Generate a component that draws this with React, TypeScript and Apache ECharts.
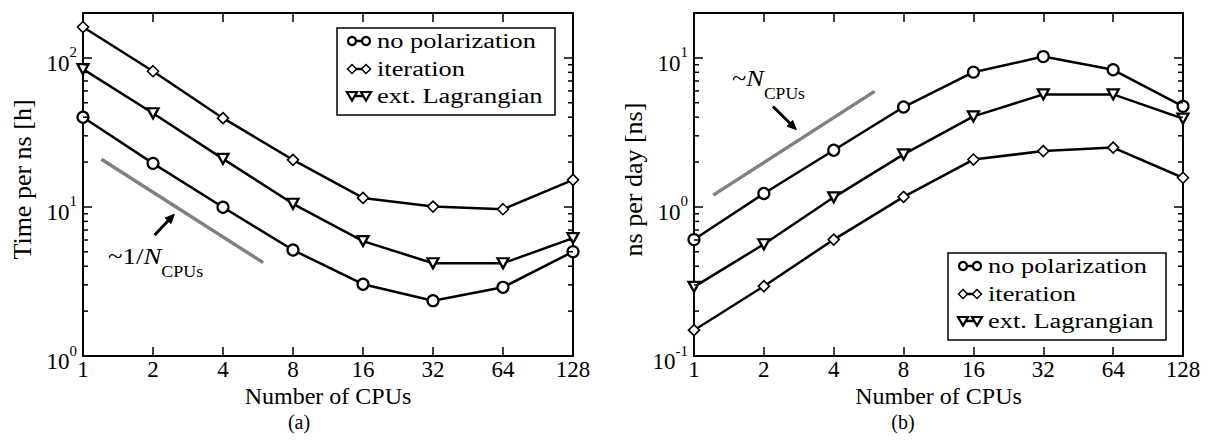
import React, { useEffect, useRef } from 'react';
import * as echarts from 'echarts';

const FONT = "'Liberation Serif', 'Times New Roman', serif";

// ---- data ----
const cpus = [1, 2, 4, 8, 16, 32, 64, 128];
// (a) Time per ns [h]
const timeNoPol = [40, 19.6, 9.95, 5.14, 3.03, 2.35, 2.89, 5.01];
const timeIter = [161, 81.4, 39.4, 20.7, 11.5, 10.05, 9.65, 15.2];
const timeLag = [84, 42.5, 21, 10.5, 5.9, 4.19, 4.19, 6.17];
// (b) ns per day [ns]
const nsNoPol = [0.604, 1.23, 2.4, 4.68, 8.02, 10.2, 8.32, 4.73];
const nsIter = [0.149, 0.294, 0.604, 1.167, 2.08, 2.37, 2.5, 1.57];
const nsLag = [0.291, 0.562, 1.16, 2.25, 4.05, 5.69, 5.69, 3.91];

// guide lines (data coordinates)
const guideLeftX = [1.2, 5.96];
const guideLeftY = [20.9, 4.23];
const guideRightX = [1.21, 6.0];
const guideRightY = [1.2, 5.96];
// arrows: [xFrom, yFrom, xTo, yTo]
const arrowLeft = [2.03, 6.46, 2.47, 8.93];
const arrowRight = [2.19, 4.72, 2.76, 3.3];

// minor tick values of the log axes
const leftMinorTicks = [2, 3, 4, 5, 6, 7, 8, 9, 20, 30, 40, 50, 60, 70, 80, 90];
const rightMinorTicks = [0.2, 0.3, 0.4, 0.5, 0.6, 0.7, 0.8, 0.9, 2, 3, 4, 5, 6, 7, 8, 9];

const seriesNames = ['no polarization', 'iteration', 'ext. Lagrangian'];
const xMin = 1;
const xMax = 128;

function powLabel(v: number) {
  const l = Math.log10(v);
  const e = Math.round(l);
  if (Math.abs(l - e) > 1e-6) return '';
  return `{b|10}{s|${e}}`;
}

const supRich = {
  b: { fontSize: 23, fontFamily: FONT, color: '#000', padding: [7, 0, 0, 0] },
  s: { fontSize: 15, fontFamily: FONT, color: '#000', verticalAlign: 'top' },
};

function xAxis(grid: number, pos: 'top' | 'bottom') {
  return {
    type: 'log',
    logBase: 2,
    min: xMin,
    max: xMax,
    gridIndex: grid,
    position: pos,
    name: pos === 'bottom' ? 'Number of CPUs' : '',
    nameLocation: 'middle',
    nameGap: 28,
    nameMoveOverlap: false,
    nameTextStyle: { fontFamily: FONT, fontSize: 24, color: '#000', lineHeight: 24 },
    axisLine: { show: true, onZero: false, lineStyle: { color: '#000', width: 2 } },
    axisTick: { show: true, inside: true, length: 9, lineStyle: { color: '#000', width: 1.5 } },
    splitLine: { show: false },
    minorTick: { show: false },
    axisLabel:
      pos === 'bottom'
        ? {
            show: true,
            margin: 2,
            fontFamily: FONT,
            fontSize: 23,
            lineHeight: 23,
            color: '#000',
            formatter: (v: number) => String(Math.round(v)),
          }
        : { show: false },
  };
}

function yAxis(grid: number, pos: 'left' | 'right', min: number, max: number, name: string) {
  return {
    type: 'log',
    logBase: 10,
    min,
    max,
    gridIndex: grid,
    position: pos,
    name: pos === 'left' ? name : '',
    nameLocation: 'middle',
    nameGap: 48,
    nameTextStyle: { fontFamily: FONT, fontSize: 26, color: '#000', padding: [0, 0, 0, 10] },
    axisLine: { show: true, onZero: false, lineStyle: { color: '#000', width: 2 } },
    axisTick: { show: true, inside: true, length: 9, lineStyle: { color: '#000', width: 1.5 } },
    splitLine: { show: false },
    axisLabel:
      pos === 'left'
        ? {
            show: true,
            margin: 6,
            padding: [4, 0, 0, 0],
            formatter: powLabel,
            rich: supRich,
          }
        : { show: false },
  };
}

const styles = [
  {
    symbol: 'circle',
    symbolSize: 11,
    symbolRotate: 0,
    itemStyle: { color: '#fff', borderColor: '#000', borderWidth: 2.2 },
  },
  {
    symbol: 'diamond',
    symbolSize: 11,
    symbolRotate: 0,
    itemStyle: { color: '#fff', borderColor: '#000', borderWidth: 1.6 },
  },
  {
    symbol: 'triangle',
    symbolSize: [11, 10],
    symbolRotate: 180,
    itemStyle: { color: '#fff', borderColor: '#000', borderWidth: 2.3 },
  },
];

function dataSeries(xi: number, yi: number, arrays: number[][]) {
  return arrays.map((arr, k) => ({
    type: 'line',
    name: seriesNames[k],
    xAxisIndex: xi,
    yAxisIndex: yi,
    data: cpus.map((c, i) => [c, arr[i]]),
    showSymbol: true,
    showAllSymbol: true,
    symbol: styles[k].symbol,
    symbolSize: styles[k].symbolSize,
    symbolRotate: styles[k].symbolRotate,
    itemStyle: styles[k].itemStyle,
    lineStyle: { color: '#000', width: 2.5 },
    z: 5,
    silent: true,
  }));
}

function guideSeries(xi: number, yi: number, gx: number[], gy: number[]) {
  return {
    type: 'line',
    xAxisIndex: xi,
    yAxisIndex: yi,
    data: gx.map((x, i) => [x, gy[i]]),
    symbol: 'none',
    lineStyle: { color: '#808080', width: 3.5 },
    silent: true,
    z: 3,
  };
}

function arrowSeries(xi: number, yi: number, arrow: number[]) {
  return {
    type: 'custom',
    xAxisIndex: xi,
    yAxisIndex: yi,
    silent: true,
    clip: false,
    z: 6,
    data: [arrow],
    encode: { x: [0, 2], y: [1, 3] },
    renderItem: (_p: any, api: any) => {
      const a = api.coord([api.value(0), api.value(1)]);
      const b = api.coord([api.value(2), api.value(3)]);
      const dx = b[0] - a[0];
      const dy = b[1] - a[1];
      const len = Math.sqrt(dx * dx + dy * dy) || 1;
      const ux = dx / len;
      const uy = dy / len;
      const headL = 9;
      const headW = 4;
      const bx = b[0] - ux * headL;
      const by = b[1] - uy * headL;
      return {
        type: 'group',
        children: [
          {
            type: 'line',
            shape: { x1: a[0], y1: a[1], x2: bx + ux * 1, y2: by + uy * 1 },
            style: { stroke: '#000', lineWidth: 3 },
          },
          {
            type: 'polygon',
            shape: {
              points: [
                [b[0], b[1]],
                [bx - uy * headW, by + ux * headW],
                [bx + uy * headW, by - ux * headW],
              ],
            },
            style: { fill: '#000', stroke: '#000', lineWidth: 1 },
          },
        ],
      };
    },
  };
}

function minorTickSeries(xi: number, yi: number, values: number[]) {
  return {
    type: 'custom',
    xAxisIndex: xi,
    yAxisIndex: yi,
    silent: true,
    clip: false,
    z: 10,
    data: values.map((v) => [xMin, v]),
    encode: { x: 0, y: 1 },
    renderItem: (_p: any, api: any) => {
      const v = api.value(1);
      const a = api.coord([xMin, v]);
      const b = api.coord([xMax, v]);
      return {
        type: 'group',
        children: [
          {
            type: 'line',
            shape: { x1: a[0], y1: a[1], x2: a[0] + 5, y2: a[1] },
            style: { stroke: '#000', lineWidth: 1.5 },
          },
          {
            type: 'line',
            shape: { x1: b[0] - 5, y1: b[1], x2: b[0], y2: b[1] },
            style: { stroke: '#000', lineWidth: 1.5 },
          },
        ],
      };
    },
  };
}

function legendGroup(x0: number, y0: number) {
  const children: any[] = [
    {
      type: 'rect',
      shape: { x: 0, y: 0, width: 218, height: 87 },
      style: { fill: '#fff', stroke: '#000', lineWidth: 1.5 },
    },
  ];
  const rowY = [13, 41, 68];
  const sx1 = 15;
  const sx2 = 29;
  seriesNames.forEach((name, i) => {
    const cy = rowY[i];
    children.push({
      type: 'line',
      shape: { x1: sx1, y1: cy, x2: sx2, y2: cy },
      style: { stroke: '#000', lineWidth: 2.5 },
    });
    [sx1, sx2].forEach((cx) => {
      if (i === 0) {
        children.push({
          type: 'circle',
          shape: { cx, cy, r: 4 },
          style: { fill: '#fff', stroke: '#000', lineWidth: 2.2 },
        });
      } else if (i === 1) {
        children.push({
          type: 'polygon',
          shape: { points: [[cx - 4.5, cy], [cx, cy - 4.5], [cx + 4.5, cy], [cx, cy + 4.5]] },
          style: { fill: '#fff', stroke: '#000', lineWidth: 1.5 },
        });
      } else {
        children.push({
          type: 'polygon',
          shape: { points: [[cx - 5, cy - 4], [cx + 5, cy - 4], [cx, cy + 4.5]] },
          style: { fill: '#fff', stroke: '#000', lineWidth: 2.2 },
        });
      }
    });
    children.push({
      type: 'text',
      x: 40,
      y: cy,
      scaleX: 1.32,
      style: {
        text: name,
        font: `20px ${FONT}`,
        fontFamily: FONT,
        fontSize: 20,
        fill: '#000',
        align: 'left',
        verticalAlign: 'middle',
      },
    });
  });
  return { type: 'group', x: x0, y: y0, z: 20, children };
}

const annoRich = {
  a: { fontSize: 24, fontFamily: FONT, color: '#000', lineHeight: 28, verticalAlign: 'top' },
  i: { fontSize: 24, fontFamily: FONT, fontStyle: 'italic', color: '#000', lineHeight: 28, verticalAlign: 'top' },
  s: { fontSize: 16, fontFamily: FONT, color: '#000', lineHeight: 16, padding: [20, 0, 0, 0], verticalAlign: 'top' },
};

const captionStyle = {
  font: `20px ${FONT}`,
  fontFamily: FONT,
  fontSize: 20,
  fill: '#000',
  align: 'center',
  verticalAlign: 'middle',
};

export default function App() {
  const ref = useRef<HTMLDivElement>(null);
  useEffect(() => {
    document.body.style.margin = '0';
    if (!ref.current) return;
    const chart = echarts.init(ref.current, null, { renderer: 'svg' });
    const option: any = {
      animation: false,
      backgroundColor: '#fff',
      grid: [
        { left: 83, top: 13, width: 490, height: 343 },
        { left: 694, top: 13, width: 489, height: 343 },
      ],
      xAxis: [xAxis(0, 'bottom'), xAxis(0, 'top'), xAxis(1, 'bottom'), xAxis(1, 'top')],
      yAxis: [
        yAxis(0, 'left', 1, 200, 'Time per ns [h]'),
        yAxis(0, 'right', 1, 200, ''),
        yAxis(1, 'left', 0.1, 20, 'ns per day [ns]'),
        yAxis(1, 'right', 0.1, 20, ''),
      ],
      series: [
        guideSeries(0, 0, guideLeftX, guideLeftY),
        arrowSeries(0, 0, arrowLeft),
        ...dataSeries(0, 0, [timeNoPol, timeIter, timeLag]),
        minorTickSeries(0, 0, leftMinorTicks),
        guideSeries(2, 2, guideRightX, guideRightY),
        arrowSeries(2, 2, arrowRight),
        ...dataSeries(2, 2, [nsNoPol, nsIter, nsLag]),
        minorTickSeries(2, 2, rightMinorTicks),
      ],
      graphic: [
        legendGroup(337, 28),
        legendGroup(948, 253),
        {
          type: 'text',
          x: 108,
          y: 244,
          scaleX: 1.12,
          style: { text: '{a|~1/}{i|N}{s|CPUs}', rich: annoRich, align: 'left', verticalAlign: 'top' },
        },
        {
          type: 'text',
          x: 732,
          y: 66,
          scaleX: 1.1,
          style: { text: '{a|~}{i|N}{s|CPUs}', rich: annoRich, align: 'left', verticalAlign: 'top' },
        },
        { type: 'text', x: 299, y: 422, style: { ...captionStyle, text: '(a)' } },
        { type: 'text', x: 903, y: 422, style: { ...captionStyle, text: '(b)' } },
      ],
    };
    chart.setOption(option);
    return () => chart.dispose();
  }, []);
  return <div ref={ref} style={{ width: 1208, height: 440 }} />;
}
